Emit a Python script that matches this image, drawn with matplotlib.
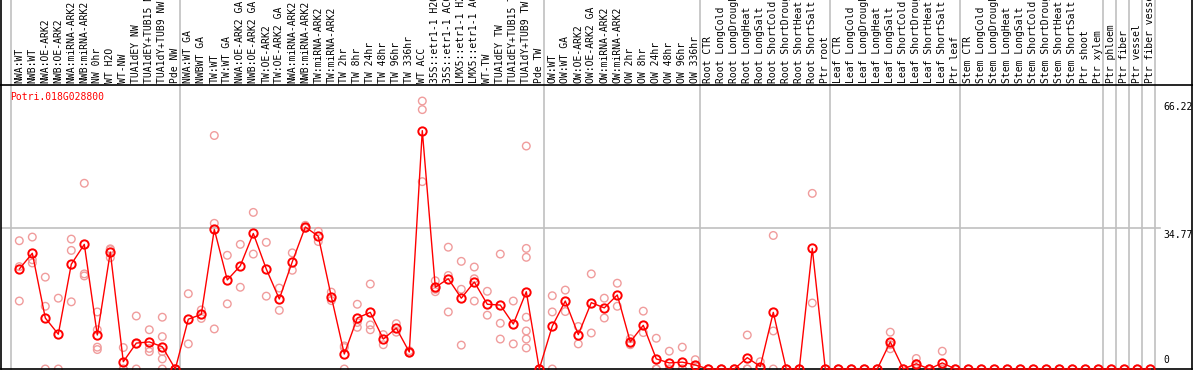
import matplotlib.pyplot as plt
from matplotlib.transforms import blended_transform_factory

# sample labels, left to right
labels = [
    "NWA:WT", "NWB:WT", "NWA:OE-ARK2", "NWB:OE-ARK2", "NWA:miRNA-ARK2", "NWB:miRNA-ARK2",
    "NW 0hr", "WT H2O", "WT-NW", "TUA1dEY NW", "TUA1dEY+TUB15 NW", "TUA1dY+TUB9 NW", "Pde NW",
    "NWA:WT GA", "NWBWT GA", "TW:WT", "TW:WT GA", "NWA:OE-ARK2 GA", "NWB:OE-ARK2 GA",
    "TW:OE-ARK2", "TW:OE-ARK2 GA", "NWA:miRNA-ARK2", "NWB:miRNA-ARK2", "TW:miRNA-ARK2",
    "TW:miRNA-ARK2", "TW 2hr", "TW 8hr", "TW 24hr", "TW 48hr", "TW 96hr", "TW 336hr",
    "WT ACC", "35S::etr1-1 H2O", "35S::etr1-1 ACC", "LMX5::etr1-1 H2O", "LMX5::etr1-1 ACC",
    "WT-TW", "TUA1dEY TW", "TUA1dEY+TUB15 TW", "TUA1dY+TUB9 TW", "Pde TW",
    "OW:WT", "OW:WT GA", "OW:OE-ARK2", "OW:OE-ARK2 GA", "OW:miRNA-ARK2", "OW:miRNA-ARK2",
    "OW 2hr", "OW 8hr", "OW 24hr", "OW 48hr", "OW 96hr", "OW 336hr",
    "Root CTR", "Root LongCold", "Root LongDrought", "Root LongHeat", "Root LongSalt",
    "Root ShortCold", "Root ShortDrought", "Root ShortHeat", "Root ShortSalt", "Ptr root",
    "Leaf CTR", "Leaf LongCold", "Leaf LongDrought", "Leaf LongHeat", "Leaf LongSalt",
    "Leaf ShortCold", "Leaf ShortDrought", "Leaf ShortHeat", "Leaf ShortSalt", "Ptr leaf",
    "Stem CTR", "Stem LongCold", "Stem LongDrought", "Stem LongHeat", "Stem LongSalt",
    "Stem ShortCold", "Stem ShortDrought", "Stem ShortHeat", "Stem ShortSalt", "Ptr shoot",
    "Ptr xylem", "Ptr phloem", "Ptr fiber", "Ptr vessel", "Ptr fiber vessel",
]

means = [
    24.7, 28.6, 12.6, 8.6, 25.9, 30.8, 8.4, 28.9, 1.8, 6.4, 6.7, 5.5, 0,
    12.3, 13.5, 34.5, 22.0, 25.5, 33.5, 24.7, 17.3, 26.5, 35.1, 32.8, 17.9, 3.7,
    12.6, 14.0, 7.4, 10.1, 4.2, 58.9, 20.2, 22.3, 17.5, 21.5, 16.0, 15.8, 11.1, 19.1, 0,
    10.6, 16.8, 8.5, 16.4, 15.1, 18.3, 6.7, 10.8, 2.5, 1.5, 1.7, 1.0,
    0, 0, 0, 2.8, 0.6, 14.0, 0, 0, 29.8, 0,
    0, 0, 0, 0, 6.7, 0, 1.3, 0, 1.5, 0,
    0, 0, 0, 0, 0, 0, 0, 0, 0, 0,
    0, 0, 0, 0, 0,
]

reps = [
    [31.7, 25.3, 16.8], [32.6, 27.0, 26.2], [22.7, 15.5, 0], [17.5, 0], [32.1, 29.3, 16.6],
    [45.9, 23.5, 23.0], [14.1, 9.7, 5.4, 4.8], [29.7, 29.5, 27.5], [5.3, 0, 0], [13.1, 6.2, 0],
    [9.7, 5.1, 4.3], [12.8, 8.0, 4.3, 2.5, 0], [0, 0, 0],
    [18.6, 6.2], [14.6, 12.5], [57.7, 36.0, 9.9], [28.1, 16.1], [30.8, 20.2], [38.7, 28.4],
    [31.3, 18.0], [20.0, 14.5], [28.7, 24.4], [35.5, 35.0, 34.8], [34.0, 31.5], [19.0, 16.9],
    [5.7, 5.3, 0], [16.0, 11.5, 10.3], [21.0, 10.9, 9.7], [8.5, 6.0], [11.2, 9.1],
    [4.5, 4.0, 4.1], [66.22, 64.1, 46.3], [21.8, 19.7, 19.1], [30.1, 23.1, 14.1],
    [26.6, 19.7, 5.9], [25.2, 22.3, 16.8], [19.2, 13.3], [28.4, 11.3, 7.4], [16.8, 6.2],
    [55.1, 29.8, 27.6, 12.8, 9.4, 7.4, 5.2], [0, 0],
    [18.1, 14.1, 0], [19.5, 14.2], [10.5, 6.2], [23.5, 8.9], [17.5, 12.6], [21.2, 15.5],
    [7.5, 6.4, 6.0], [14.3, 9.0], [7.6, 0, 0], [4.4, 0, 0], [5.4, 0, 0], [2.3, 0.8, 0],
    [0, 0], [0, 0], [0, 0], [8.4, 0, 0], [1.8, 0, 0], [33.0, 9.4, 0], [0, 0], [0, 0],
    [43.4, 16.3], [0, 0],
    [0, 0], [0, 0], [0, 0], [0, 0], [9.1, 6.0, 5.0], [0, 0], [2.6, 1.3, 0], [0, 0],
    [4.4, 0, 0], [0, 0],
    [0], [0], [0], [0], [0], [0], [0], [0], [0], [0],
    [0], [0], [0], [0], [0],
]

# last sample index of each group (separators drawn after them)
group_ends = [-1, 12, 40, 52, 62, 72, 83, 84, 85, 86, 87]
gene = "Potri.018G028800"
ytick_vals = [66.22, 34.77, 0]

mono = "DejaVu Sans Mono"
fig = plt.figure(figsize=(11.94, 3.70), dpi=100)
ax = fig.add_axes([1 / 1194, 1 / 370, 1191 / 1194, 284 / 370])

x = list(range(len(labels)))
for i, r in enumerate(reps):
    ax.scatter([i] * len(r), r, s=30, facecolors="none", edgecolors="#f09c9c",
               linewidths=1.0, zorder=2, clip_on=False)
ax.plot(x, means, color="red", lw=1.0, marker="o", ms=6, mfc="none", mew=1.4,
        zorder=3, clip_on=False)

ax.set_xlim(-1.408, 90.21)
ax.set_ylim(0, 70.18)
ax.set_xticks([])
ax.set_yticks([])
ax.spines["right"].set_visible(True)
for s in ax.spines.values():
    s.set_color("black")
    s.set_linewidth(1.2)

# group separators run through the header too
top = 370 / 284
for g in group_ends:
    ax.axvline(g + 0.37, ymin=0, ymax=top, color="#c0c0c0", lw=1.2, zorder=1, clip_on=False)
for xa in (0, 1):
    ax.plot([xa, xa], [1, top], transform=ax.transAxes, color="black", lw=1.2, clip_on=False)

ax.axhline(ytick_vals[1], xmin=0, xmax=0.973, color="#c0c0c0", lw=1.2, zorder=1)

hdr = blended_transform_factory(ax.transData, ax.transAxes)
for i, lab in enumerate(labels):
    ax.text(i, 1.006, lab, transform=hdr, rotation=90, ha="center", va="bottom",
            fontsize=7, family=mono, clip_on=False)

ytr = blended_transform_factory(ax.transAxes, ax.transData)
for v in ytick_vals:
    txt = "0" if v == 0 else f"{v:.2f}"
    if v == 0:
        ax.text(0.976, 0.9, txt, transform=ytr, ha="left", va="bottom", fontsize=7, family=mono)
    else:
        ax.text(0.976, v - 0.3, txt, transform=ytr, ha="left", va="top", fontsize=7, family=mono)

fig.text(10 / 1194, 1 - 96.7 / 370, gene, color="red", fontsize=7, family=mono,
         ha="left", va="center")

fig.savefig("out.png", dpi=100)
